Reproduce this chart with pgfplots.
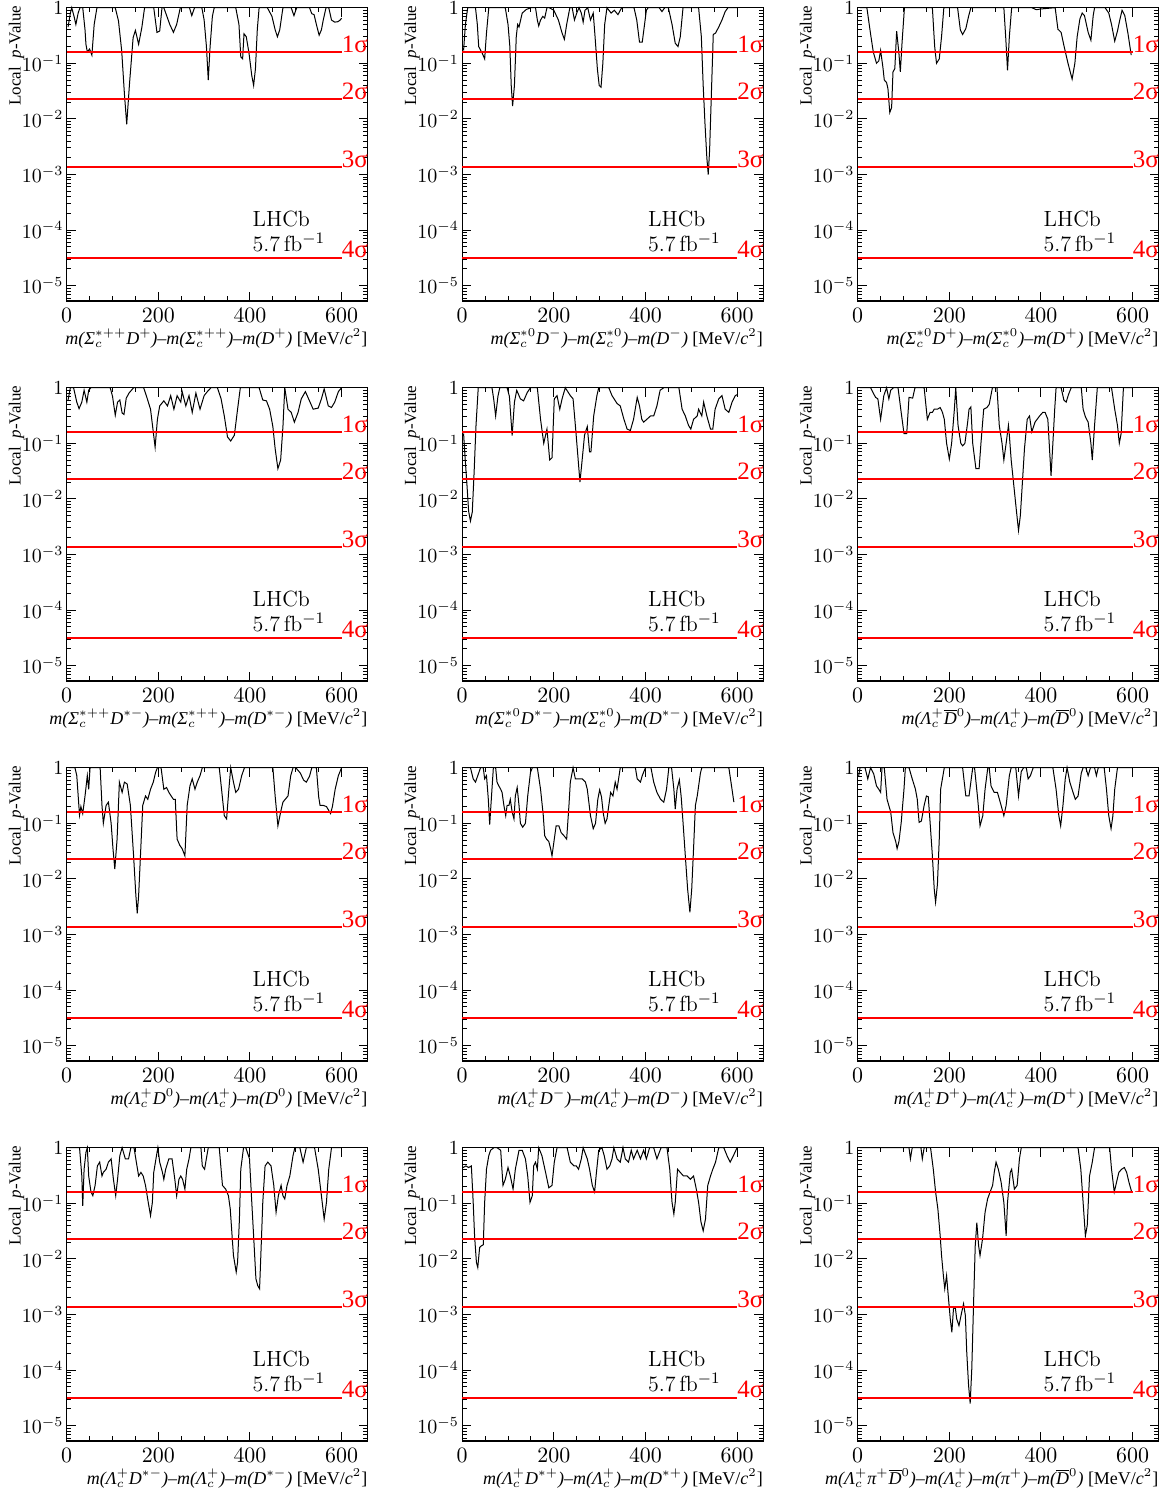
\documentclass[border=0pt]{standalone}
\usepackage{amsmath}
\usepackage{fontspec}
\newfontfamily\tnr{Liberation Serif}
\usepackage{pgfplots}
\pgfplotsset{compat=1.18}

\tikzset{
  siglab/.style={anchor=base west, inner sep=0pt, text=red, font=\tnr\fontsize{12.5}{14}\selectfont},
  lhcblab/.style={anchor=north west, inner sep=0pt, align=left, font=\fontsize{11}{12.7}\selectfont},
}
\pgfplotsset{
  every axis/.append style={
    scale only axis, width=150.5pt, height=146.65pt,
    anchor=north west, clip=false, unbounded coords=jump,
    xmin=0, xmax=657, ymin=5.3e-6, ymax=1,
    xtick={0,200,400,600}, minor x tick num=3,
    ytick={1,0.1,0.01,0.001,0.0001,0.00001},
    yticklabels={$1$,$10^{-1}$,$10^{-2}$,$10^{-3}$,$10^{-4}$,$10^{-5}$},
    minor ytick={6e-6,7e-6,8e-6,9e-6,
      2e-5,3e-5,4e-5,5e-5,6e-5,7e-5,8e-5,9e-5,
      2e-4,3e-4,4e-4,5e-4,6e-4,7e-4,8e-4,9e-4,
      2e-3,3e-3,4e-3,5e-3,6e-3,7e-3,8e-3,9e-3,
      0.02,0.03,0.04,0.05,0.06,0.07,0.08,0.09,
      0.2,0.3,0.4,0.5,0.6,0.7,0.8,0.9},
    tick align=inside, xtick pos=both, ytick pos=both,
    xticklabel pos=lower, yticklabel pos=left,
    major tick length=4.5pt, minor tick length=2.3pt,
    tick style={black, line width=0.5pt},
    axis line style={line width=0.6pt},
    xticklabel style={font=\fontsize{11}{13}\selectfont},
    yticklabel style={font=\fontsize{10}{12}\selectfont, inner xsep=1.5pt},
    ylabel={\tnr Local\ \ \textit{p}-Value},
    % the label is turned by 90 degrees, so its xshift runs upwards and its yshift leftwards
    ylabel style={at={(rel axis cs:0,1)}, anchor=base east, inner sep=0pt,
      xshift=1.3pt, yshift=23pt, font=\fontsize{8.5}{10}\selectfont},
    xlabel style={at={(rel axis cs:1,0)}, anchor=base east, inner sep=0pt,
      yshift=-21.7pt, font=\tnr\fontsize{9}{11}\selectfont},
  }
}

% significance lines at the one-sided Gaussian tails of 1-4 sigma,
% their labels and the experiment tag
\newcommand{\sigmalines}{%
  \addplot[color=red, draw=red, line width=0.8pt, mark=none, forget plot] coordinates {
    (0,0.158655) (600,0.158655) (nan,nan)
    (0,0.0227501) (600,0.0227501) (nan,nan)
    (0,0.0013499) (600,0.0013499) (nan,nan)
    (0,3.16712e-5) (600,3.16712e-5)};
  \node[siglab] at (axis cs:600,0.158655) {1σ};
  \node[siglab] at (axis cs:600,0.0227501) {2σ};
  \node[siglab] at (axis cs:600,0.0013499) {3σ};
  \node[siglab] at (axis cs:600,3.16712e-5) {4σ};
  \node[lhcblab] at (axis cs:405,2.24e-4) {LHCb\\5.7\,fb$^{-1}$};
}
\newcommand{\massunit}{ \upshape[MeV/\textit{c}$^2$]}
\newcommand{\Dbar}{$\overline{\mbox{D}}{}^{0}$}

\begin{document}
\begin{tikzpicture}

% ---------------- row 1 ----------------
\begin{semilogyaxis}[at={(0pt,0pt)},
  xlabel={\itshape m(Σ$_c^{*++}$D$^{+}$)–m(Σ$_c^{*++}$)–m(D$^{+}$)\massunit}]
\addplot[black, line width=0.5pt] coordinates {(3,0.45) (8,0.8) (11,1) (16,0.7) (20,0.5) (25,0.8) (29,1) (35,1) (40,0.4) (42,0.22) (45,0.16) (50,0.18) (55,0.14) (60,0.5) (66,1) (106,1) (113,0.58) (120,0.17) (126,0.028) (131,0.008) (137,0.042) (145,0.29) (150,0.39) (157,0.22) (164,0.44) (170,1) (190,1) (197,0.36) (203,0.38) (208,1) (212,1) (225,0.5) (233,0.36) (240,0.5) (248,1) (268,1) (273,0.72) (279,1) (295,1) (300,0.6) (305,0.2) (309,0.05) (313,0.2) (318,0.7) (322,1) (369,1) (376,0.5) (380,0.13) (384,0.12) (387,0.34) (392,0.3) (398,0.15) (404,0.06) (408,0.04) (412,0.08) (416,0.4) (420,1) (438,1) (448,0.7) (455,0.4) (460,0.3) (465,0.4) (472,1) (490,1) (496,0.72) (502,1) (530,1) (535,0.78) (540,0.75) (545,0.5) (551,0.32) (556,0.4) (560,0.6) (566,1) (572,1) (578,0.6) (585,0.55) (592,0.56) (597,0.6) (600,0.65)};
\sigmalines
\end{semilogyaxis}

\begin{semilogyaxis}[at={(197.75pt,0pt)},
  xlabel={\itshape m(Σ$_c^{*0}$D$^{-}$)–m(Σ$_c^{*0}$)–m(D$^{-}$)\massunit}]
\addplot[black, line width=0.5pt] coordinates {(3,0.17) (7,0.5) (12,1) (29,1) (33,0.5) (36,0.2) (44,0.15) (49,0.12) (53,0.35) (58,1) (94,1) (100,0.5) (104,0.2) (107,0.04) (110,0.017) (114,0.04) (118,0.3) (121,0.5) (124,0.45) (131,0.8) (140,0.93) (150,1) (160,1) (164,0.6) (167,0.47) (171,0.6) (176,0.7) (180,0.65) (185,1) (190,1) (200,0.9) (210,0.6) (218,0.35) (223,0.27) (228,0.5) (235,1) (240,1) (245,0.6) (250,0.8) (255,1) (260,0.8) (264,0.55) (268,0.9) (274,1) (280,0.6) (286,0.8) (290,0.3) (295,0.08) (299,0.04) (303,0.037) (307,0.1) (311,0.5) (316,1) (325,0.8) (332,0.9) (340,0.75) (348,1) (375,1) (381,0.6) (387,0.24) (393,0.24) (398,0.5) (402,0.9) (406,1) (430,1) (436,0.85) (442,1) (450,1) (458,0.5) (465,0.23) (471,0.2) (476,0.3) (482,1) (516,1) (522,0.3) (526,0.04) (530,0.008) (534,0.002) (537,0.001) (540,0.0027) (544,0.03) (548,0.33) (553,0.35) (560,0.45) (567,0.6) (574,0.85) (580,1) (600,1)};
\sigmalines
\end{semilogyaxis}

\begin{semilogyaxis}[at={(395.5pt,0pt)},
  xlabel={\itshape m(Σ$_c^{*0}$D$^{+}$)–m(Σ$_c^{*0}$)–m(D$^{+}$)\massunit}]
\addplot[black, line width=0.5pt] coordinates {(5,1) (20,1) (28,0.34) (34,0.16) (41,0.1) (46,0.11) (50,0.17) (55,0.085) (58,0.05) (63,0.045) (66,0.035) (70,0.013) (74,0.016) (77,0.07) (81,0.08) (85,0.38) (90,0.15) (93,0.07) (97,0.25) (102,1) (163,1) (168,0.2) (172,0.1) (178,0.12) (183,0.3) (188,1) (218,1) (224,0.4) (229,0.33) (236,0.42) (242,0.7) (247,1) (319,1) (323,0.3) (327,0.075) (331,0.3) (336,1) (380,1) (390,0.92) (400,0.95) (431,1) (437,0.41) (444,0.36) (450,0.21) (459,0.1) (468,0.052) (474,0.1) (479,0.3) (485,0.63) (490,0.8) (495,0.72) (503,0.36) (509,0.26) (514,0.72) (517,1) (540,1) (548,0.8) (554,0.5) (561,0.25) (567,0.38) (572,0.6) (577,0.9) (583,0.72) (590,0.34) (597,0.14)};
\sigmalines
\end{semilogyaxis}

% ---------------- row 2 ----------------
\begin{semilogyaxis}[at={(0pt,-190pt)},
  xlabel={\itshape m(Σ$_c^{*++}$D$^{*-}$)–m(Σ$_c^{*++}$)–m(D$^{*-}$)\massunit}]
\addplot[black, line width=0.5pt] coordinates {(3,0.6) (8,1) (15,1) (22,0.55) (27,0.42) (33,0.55) (38,0.9) (44,0.55) (48,0.9) (53,1) (95,1) (100,0.7) (106,0.32) (111,0.55) (116,0.6) (121,0.35) (125,0.33) (130,0.65) (136,0.8) (146,1) (168,1) (176,0.63) (183,0.41) (189,0.16) (193,0.085) (198,0.27) (203,0.47) (212,0.58) (220,0.47) (227,0.72) (234,0.41) (241,0.72) (249,0.55) (252,0.85) (260,0.47) (267,0.72) (274,0.36) (282,0.8) (291,0.41) (300,0.72) (307,0.85) (315,1) (329,1) (337,0.63) (344,0.31) (351,0.13) (358,0.11) (366,0.14) (373,0.41) (379,1) (420,1) (428,0.6) (436,0.58) (443,0.41) (450,0.2) (455,0.08) (461,0.035) (467,0.05) (472,0.2) (476,1) (483,0.41) (490,0.36) (497,0.24) (505,0.36) (512,0.63) (521,0.85) (528,0.63) (538,0.41) (549,0.43) (556,0.63) (562,0.95) (571,0.47) (578,0.44) (585,0.55) (593,0.85) (600,1)};
\sigmalines
\end{semilogyaxis}

\begin{semilogyaxis}[at={(197.75pt,-190pt)},
  xlabel={\itshape m(Σ$_c^{*0}$D$^{*-}$)–m(Σ$_c^{*0}$)–m(D$^{*-}$)\massunit}]
\addplot[black, line width=0.5pt] coordinates {(3,0.15) (6,0.06) (10,0.02) (14,0.006) (18,0.004) (22,0.0058) (26,0.03) (30,0.2) (35,1) (65,1) (69,0.6) (73,0.31) (78,0.7) (82,1) (98,1) (103,0.7) (109,0.137) (114,0.55) (119,0.9) (127,0.63) (134,0.58) (142,0.82) (149,1) (164,1) (171,0.27) (178,0.1) (185,0.18) (191,0.05) (196,0.055) (201,0.63) (207,0.72) (213,0.41) (218,0.63) (225,1) (236,0.72) (242,0.63) (247,0.21) (253,0.052) (257,0.02) (262,0.052) (267,0.14) (273,0.2) (278,0.07) (281,0.07) (287,0.31) (294,0.72) (298,1) (320,1) (327,0.72) (338,0.52) (345,0.47) (353,0.27) (360,0.18) (367,0.17) (374,0.27) (382,0.67) (387,0.47) (392,0.27) (396,0.24) (403,0.27) (411,0.31) (418,0.31) (425,0.47) (432,0.9) (440,1) (473,1) (480,0.41) (487,0.31) (494,0.21) (499,0.18) (505,0.27) (513,0.31) (516,0.41) (523,0.31) (527,0.55) (534,0.31) (542,0.18) (547,0.18) (552,0.41) (560,0.63) (567,0.72) (574,0.41) (582,0.36) (589,0.55) (596,0.72) (600,0.75)};
\sigmalines
\end{semilogyaxis}

\begin{semilogyaxis}[at={(395.5pt,-190pt)},
  xlabel={\itshape m(Λ$_c^{+}$\Dbar)–m(Λ$_c^{+}$)–m(\Dbar)\massunit}]
\addplot[black, line width=0.5pt] coordinates {(5,1) (28,1) (34,0.8) (39,0.67) (44,0.63) (50,0.27) (57,0.72) (63,1) (68,0.63) (72,0.9) (78,1) (88,1) (94,0.41) (101,0.15) (107,0.15) (112,0.67) (120,0.65) (125,1) (145,1) (152,0.27) (158,0.36) (163,0.36) (167,0.41) (174,0.41) (180,0.44) (185,0.36) (189,0.27) (194,0.1) (200,0.052) (205,0.1) (211,0.41) (214,1) (219,0.21) (225,0.1) (229,0.09) (234,0.1) (240,0.24) (243,0.41) (247,0.45) (251,0.1) (258,0.035) (265,0.035) (269,0.1) (275,0.41) (282,0.44) (287,0.5) (294,1) (304,1) (309,0.21) (315,0.1) (319,0.05) (324,0.1) (329,0.21) (331,0.14) (335,0.05) (340,0.02) (346,0.0066) (351,0.0027) (355,0.005) (359,0.017) (364,0.08) (370,0.27) (375,0.31) (380,0.16) (387,0.24) (397,0.31) (404,0.36) (409,0.36) (415,0.27) (418,0.1) (422,0.026) (426,0.1) (430,0.41) (433,1) (444,1) (450,0.6) (455,0.55) (460,0.75) (466,1) (488,1) (492,0.41) (497,0.3) (503,0.24) (509,0.1) (512,0.05) (517,0.21) (523,1) (554,1) (561,0.41) (567,0.21) (571,0.1) (575,0.15) (580,1) (600,1)};
\sigmalines
\end{semilogyaxis}

% ---------------- row 3 ----------------
\begin{semilogyaxis}[at={(0pt,-380pt)},
  xlabel={\itshape m(Λ$_c^{+}$D$^{0}$)–m(Λ$_c^{+}$)–m(D$^{0}$)\massunit}]
\addplot[black, line width=0.5pt] coordinates {(5,1) (18,1) (22,0.72) (28,0.14) (31,0.2) (35,0.15) (40,0.31) (45,0.72) (48,0.41) (51,1) (73,1) (77,0.21) (80,0.1) (86,0.21) (91,0.24) (97,0.1) (101,0.035) (105,0.015) (110,0.052) (115,0.55) (121,0.36) (126,0.55) (132,0.51) (139,0.21) (146,0.026) (151,0.005) (154,0.0024) (157,0.005) (161,0.026) (166,0.21) (172,0.31) (177,0.27) (183,0.41) (189,0.55) (194,0.82) (198,1) (206,1) (212,0.41) (218,0.44) (223,0.36) (228,0.31) (233,0.27) (237,0.27) (241,0.052) (247,0.04) (252,0.035) (258,0.026) (263,0.21) (269,0.47) (274,0.63) (280,0.41) (285,0.55) (291,0.72) (296,1) (333,1) (338,0.41) (344,0.137) (349,0.12) (354,0.41) (358,1) (364,0.55) (369,0.36) (375,0.41) (382,0.72) (388,1) (450,1) (455,0.31) (461,0.09) (467,0.16) (472,0.24) (477,0.27) (483,0.31) (489,0.72) (494,1) (500,1) (510,0.8) (517,0.6) (523,0.55) (530,0.7) (535,1) (545,1) (550,0.3) (553,0.21) (560,0.21) (567,0.2) (572,0.17) (576,0.15) (580,0.2) (586,0.41) (593,0.72) (600,1)};
\sigmalines
\end{semilogyaxis}

\begin{semilogyaxis}[at={(197.75pt,-380pt)},
  xlabel={\itshape m(Λ$_c^{+}$D$^{-}$)–m(Λ$_c^{+}$)–m(D$^{-}$)\massunit}]
\addplot[black, line width=0.5pt] coordinates {(5,1) (18,1) (24,0.63) (29,0.55) (34,0.72) (40,1) (46,1) (49,0.63) (53,0.72) (57,0.27) (60,0.095) (64,0.31) (68,1) (73,1) (76,0.55) (80,0.47) (84,0.41) (87,0.36) (91,0.21) (95,0.137) (98,0.21) (102,0.21) (105,0.27) (109,0.16) (113,0.12) (116,0.31) (120,0.44) (124,0.21) (127,0.1) (132,0.085) (138,0.1) (143,0.31) (149,0.82) (153,1) (164,1) (171,0.41) (177,0.137) (180,0.06) (184,0.052) (189,0.047) (193,0.035) (196,0.026) (201,0.052) (205,0.09) (211,0.09) (216,0.068) (222,0.06) (228,0.052) (233,0.21) (236,0.55) (242,1) (247,0.63) (255,0.63) (262,0.63) (269,0.55) (273,0.41) (280,0.137) (286,0.08) (291,0.1) (296,0.27) (300,0.4) (304,0.3) (308,0.15) (312,0.1) (316,0.12) (320,0.21) (324,0.36) (329,0.31) (334,0.55) (338,0.41) (345,1) (378,1) (382,0.63) (389,0.55) (393,0.72) (400,1) (412,1) (418,0.55) (425,0.36) (433,0.27) (440,0.24) (446,0.41) (451,1) (457,1) (462,0.41) (465,0.18) (469,0.41) (474,0.6) (478,0.3) (482,0.104) (487,0.026) (492,0.0066) (497,0.0025) (501,0.0066) (505,0.035) (509,0.21) (513,0.31) (520,0.8) (523,1) (582,1) (586,0.6) (593,0.24)};
\sigmalines
\end{semilogyaxis}

\begin{semilogyaxis}[at={(395.5pt,-380pt)},
  xlabel={\itshape m(Λ$_c^{+}$D$^{+}$)–m(Λ$_c^{+}$)–m(D$^{+}$)\massunit}]
\addplot[black, line width=0.5pt] coordinates {(2,0.7) (5,1) (16,1) (22,0.63) (28,1) (35,0.77) (41,0.47) (46,0.41) (50,0.36) (53,1) (58,1) (64,0.27) (72,0.16) (77,0.068) (83,0.047) (86,0.035) (90,0.047) (95,0.104) (101,0.41) (104,1) (112,1) (119,0.63) (126,0.41) (130,0.27) (134,0.104) (139,0.11) (145,0.21) (150,0.31) (154,0.3) (158,0.104) (163,0.026) (167,0.0066) (170,0.0038) (174,0.008) (178,0.052) (181,0.41) (189,1) (229,1) (236,0.31) (243,0.31) (251,1) (255,1) (262,0.27) (267,0.09) (273,0.137) (278,0.41) (284,1) (287,1) (291,0.47) (298,0.36) (305,0.36) (313,0.21) (319,0.137) (324,0.21) (331,0.72) (335,1) (345,1) (351,0.31) (357,0.85) (362,1) (368,1) (372,0.63) (377,0.72) (383,1) (426,1) (433,0.41) (439,0.137) (443,0.09) (448,0.21) (453,0.63) (457,1) (463,0.55) (470,0.36) (475,0.27) (481,0.31) (488,0.8) (492,1) (498,1) (503,0.72) (508,1) (517,1) (521,0.72) (525,1) (538,1) (543,0.41) (548,0.137) (553,0.08) (557,0.137) (561,0.41) (567,1) (600,1)};
\sigmalines
\end{semilogyaxis}

% ---------------- row 4 ----------------
\begin{semilogyaxis}[at={(0pt,-570pt)},
  xlabel={\itshape m(Λ$_c^{+}$D$^{*-}$)–m(Λ$_c^{+}$)–m(D$^{*-}$)\massunit}]
\addplot[black, line width=0.5pt] coordinates {(5,1) (28,1) (33,0.31) (35,0.09) (38,0.41) (42,0.82) (45,1) (48,0.31) (53,0.16) (57,0.137) (62,0.21) (67,0.47) (72,0.55) (77,0.31) (80,0.36) (86,0.41) (91,0.55) (97,0.63) (102,0.27) (107,0.137) (111,0.27) (116,0.72) (121,1) (128,0.63) (135,0.63) (140,1) (147,1) (152,0.55) (157,0.31) (162,0.36) (167,0.31) (172,0.21) (178,0.104) (183,0.06) (187,0.104) (190,0.36) (196,0.72) (199,1) (203,0.55) (209,0.36) (212,0.27) (216,0.41) (223,0.63) (230,0.63) (236,0.27) (240,0.137) (245,0.27) (249,0.31) (253,0.27) (258,0.18) (262,0.41) (267,0.63) (271,1) (293,1) (296,0.47) (301,0.41) (306,0.72) (309,1) (333,1) (340,0.21) (347,0.18) (353,0.137) (357,0.079) (361,0.026) (364,0.0115) (370,0.0058) (373,0.0087) (377,0.052) (380,0.41) (386,1) (391,1) (399,0.63) (404,0.104) (408,0.026) (413,0.0044) (417,0.0033) (421,0.0029) (424,0.013) (428,0.104) (433,0.47) (439,0.55) (446,0.47) (452,0.21) (457,0.069) (462,0.137) (468,0.21) (472,0.137) (476,0.12) (481,0.21) (487,0.31) (494,0.72) (498,1) (509,1) (516,0.55) (523,1) (541,1) (549,0.41) (556,0.137) (562,0.052) (567,0.104) (572,0.41) (578,1) (600,1)};
\sigmalines
\end{semilogyaxis}

\begin{semilogyaxis}[at={(197.75pt,-570pt)},
  xlabel={\itshape m(Λ$_c^{+}$D$^{*+}$)–m(Λ$_c^{+}$)–m(D$^{*+}$)\massunit}]
\addplot[black, line width=0.5pt] coordinates {(2,0.44) (8,0.47) (14,0.44) (20,0.47) (24,0.104) (27,0.026) (31,0.0087) (34,0.007) (38,0.016) (41,0.017) (46,0.018) (49,0.104) (53,0.41) (58,0.72) (62,0.9) (69,1) (76,1) (84,0.9) (89,0.21) (94,0.27) (100,0.44) (105,0.31) (111,0.18) (116,0.41) (124,0.9) (131,0.9) (138,0.63) (143,0.31) (148,0.104) (153,0.137) (156,0.47) (160,0.55) (164,0.41) (167,1) (174,0.72) (182,0.36) (189,0.19) (196,0.21) (201,0.55) (207,1) (229,1) (236,0.55) (244,0.47) (249,0.47) (254,0.41) (260,0.63) (264,1) (273,0.63) (278,0.41) (284,0.21) (289,0.16) (293,0.36) (298,0.9) (305,1) (310,0.72) (316,0.41) (322,0.47) (327,0.63) (331,1) (338,0.63) (345,0.55) (351,1) (356,0.63) (363,0.55) (369,0.9) (374,0.63) (382,0.9) (389,0.63) (396,0.9) (402,0.63) (409,1) (418,1) (425,0.63) (434,1) (447,1) (453,0.41) (458,0.104) (462,0.064) (465,0.104) (470,0.41) (476,0.36) (483,0.31) (491,0.31) (498,0.27) (505,0.31) (511,0.18) (516,0.104) (521,0.047) (526,0.032) (531,0.052) (536,0.21) (542,0.31) (547,0.41) (553,0.55) (560,1) (571,1) (578,0.72) (585,0.55) (592,0.72) (600,1)};
\sigmalines
\end{semilogyaxis}

\begin{semilogyaxis}[at={(395.5pt,-570pt)},
  xlabel={\itshape m(Λ$_c^{+}$π$^{+}$\Dbar)–m(Λ$_c^{+}$)–m(π$^{+}$)–m(\Dbar)\massunit}]
\addplot[black, line width=0.5pt] coordinates {(5,1) (112,1) (115,0.63) (119,1) (138,1) (141,0.63) (145,1) (159,1) (165,0.41) (170,0.16) (175,0.079) (180,0.026) (183,0.0115) (187,0.005) (190,0.0029) (194,0.005) (197,0.0025) (202,0.00084) (205.5,0.00048) (209,0.00126) (213,0.00135) (216,0.00084) (221,0.00063) (227,0.0011) (231,0.00156) (235,0.00096) (238,0.00021) (242,5.3e-5) (245.5,2.5e-5) (249,0.000105) (253,0.0017) (256.5,0.017) (260,0.045) (264,0.017) (267,0.0115) (272.5,0.023) (278,0.069) (283.5,0.12) (289,0.16) (294.5,0.21) (298,0.36) (302,0.55) (307,0.41) (313,0.24) (319,0.104) (324,0.026) (327,0.104) (333,0.36) (336,0.41) (342,0.18) (348,0.21) (353,0.63) (357,1) (481,1) (487,0.41) (492,0.104) (497,0.026) (501,0.04) (506,0.31) (512,0.55) (517,1) (550,1) (554,0.41) (560,0.16) (565,0.24) (570,0.36) (576,0.41) (582,0.44) (587,0.36) (592,0.24) (598,0.16)};
\sigmalines
\end{semilogyaxis}

\pgfresetboundingbox
\useasboundingbox (-33.35pt,3.85pt) rectangle (552.15pt,-744.65pt);
\end{tikzpicture}
\end{document}
